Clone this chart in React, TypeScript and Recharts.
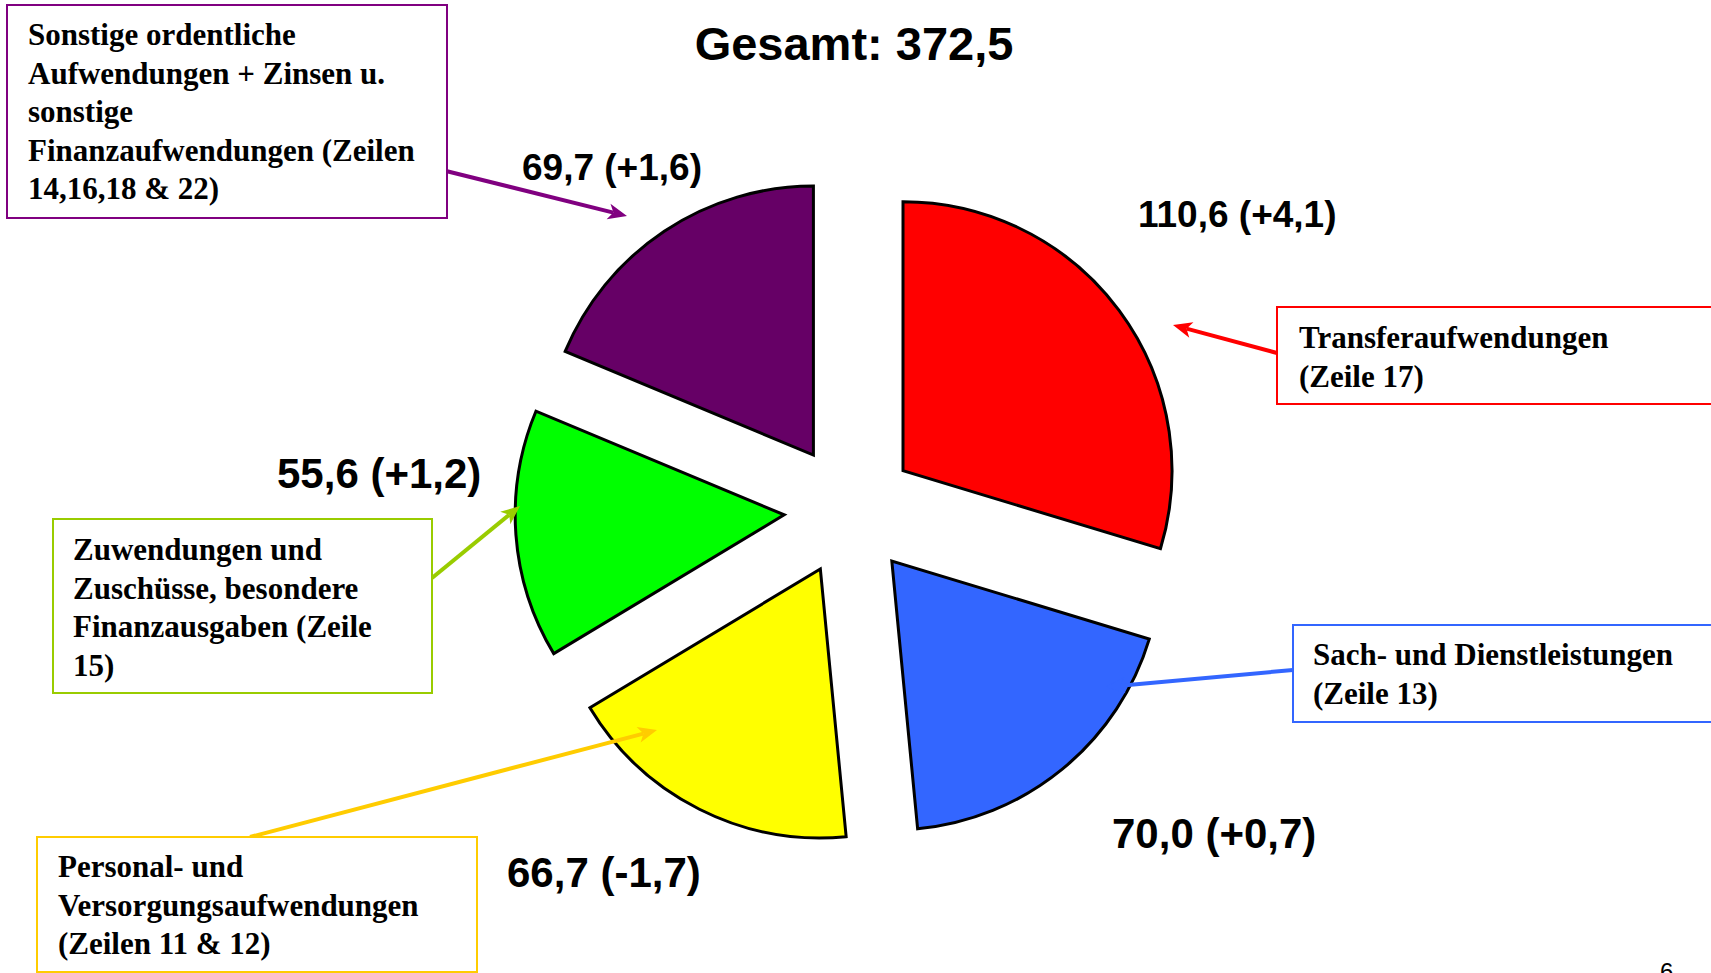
import { Cell, Pie, PieChart, Sector } from "recharts";

const CATEGORIES = [
  "Transferaufwendungen (Zeile 17)",
  "Sach- und Dienstleistungen (Zeile 13)",
  "Personal- und Versorgungsaufwendungen (Zeilen 11 & 12)",
  "Zuwendungen und Zuschüsse, besondere Finanzausgaben (Zeile 15)",
  "Sonstige ordentliche Aufwendungen + Zinsen u. sonstige Finanzaufwendungen (Zeilen 14,16,18 & 22)",
];
const VALUES = [110.6, 70.0, 66.7, 55.6, 69.7];
const CHANGES = [4.1, 0.7, -1.7, 1.2, 1.6];
const TOTAL = "372,5";
const BOX_LINES = [
  ["Transferaufwendungen", "(Zeile 17)"],
  ["Sach- und Dienstleistungen", "(Zeile 13)"],
  ["Personal- und", "Versorgungsaufwendungen", "(Zeilen 11 & 12)"],
  ["Zuwendungen und", "Zuschüsse, besondere", "Finanzausgaben (Zeile", "15)"],
  [
    "Sonstige ordentliche",
    "Aufwendungen + Zinsen u.",
    "sonstige",
    "Finanzaufwendungen (Zeilen",
    "14,16,18 & 22)",
  ],
];

const SLICE_COLORS = ["#ff0000", "#3366ff", "#ffff00", "#00ff00", "#660066"];
const CALLOUT_COLORS = ["#ff0000", "#3366ff", "#ffcc00", "#99cc00", "#800080"];

// layout
const W = 1711;
const H = 973;
const CX = 850;
const CY = 510;
const R = 269;
const EXPLODE = 66;
const SANS = "'Liberation Sans', Arial, sans-serif";
const SERIF = "'Liberation Serif', 'Times New Roman', serif";

const LABEL_POS = [
  { x: 1138, y: 227, size: 37 },
  { x: 1112, y: 848, size: 42 },
  { x: 507, y: 887, size: 42 },
  { x: 277, y: 488, size: 42 },
  { x: 522, y: 180, size: 37 },
];

const BOXES = [
  { x: 1277, y: 307, w: 470, h: 97, tx: 1299, ty: 348, from: [1277, 353], to: [1173, 325] },
  { x: 1293, y: 625, w: 450, h: 97, tx: 1313, ty: 665, from: [1293, 670], to: [1106, 687] },
  { x: 37, y: 837, w: 440, h: 135, tx: 58, ty: 877, from: [250, 837], to: [657, 730] },
  { x: 53, y: 519, w: 379, h: 174, tx: 73, ty: 560, from: [432, 578], to: [520, 506] },
  { x: 7, y: 5, w: 440, h: 213, tx: 28, ty: 45, from: [446, 171], to: [627, 216] },
];

const data = CATEGORIES.map((name, i) => ({ name, value: VALUES[i], change: CHANGES[i] }));

const fmt = (v: number) => v.toFixed(1).replace(".", ",");
const fmtChange = (v: number) => (v >= 0 ? "+" : "-") + fmt(Math.abs(v));

function ExplodedSector(props: any) {
  const rad = (-props.midAngle * Math.PI) / 180;
  return (
    <Sector
      {...props}
      cx={props.cx + EXPLODE * Math.cos(rad)}
      cy={props.cy + EXPLODE * Math.sin(rad)}
    />
  );
}

function renderLabel(props: any) {
  const i = props.index;
  const p = LABEL_POS[i];
  return (
    <text
      key={`lbl-${i}`}
      x={p.x}
      y={p.y}
      fill="#000"
      fontSize={p.size}
      fontWeight="bold"
      fontFamily={SANS}
      textAnchor="start"
    >
      {`${fmt(VALUES[i])} (${fmtChange(CHANGES[i])})`}
    </text>
  );
}

function Arrow({ from, to, color }: { from: number[]; to: number[]; color: string }) {
  const [x1, y1] = from;
  const [x2, y2] = to;
  const a = Math.atan2(y2 - y1, x2 - x1);
  const len = 19;
  const half = 8;
  const bx = x2 - len * Math.cos(a);
  const by = y2 - len * Math.sin(a);
  const nx = x2 - (len - 5) * Math.cos(a);
  const ny = y2 - (len - 5) * Math.sin(a);
  const pts = [
    [x2, y2],
    [bx + half * Math.sin(a), by - half * Math.cos(a)],
    [nx, ny],
    [bx - half * Math.sin(a), by + half * Math.cos(a)],
  ]
    .map((p) => p.join(","))
    .join(" ");
  return (
    <g>
      <line x1={x1} y1={y1} x2={nx} y2={ny} stroke={color} strokeWidth={4} />
      <polygon points={pts} fill={color} />
    </g>
  );
}

// drawn over the chart so the arrows sit on top of the slices
function Callouts() {
  return (
    <svg
      width={W}
      height={H}
      style={{ position: "absolute", left: 0, top: 0, pointerEvents: "none" }}
    >
      <text
        x={854}
        y={60}
        textAnchor="middle"
        fontSize={47}
        fontWeight="bold"
        fontFamily={SANS}
        fill="#000"
      >
        {`Gesamt: ${TOTAL}`}
      </text>
      {BOXES.map((b, i) => (
        <g key={i}>
          <Arrow from={b.from} to={b.to} color={CALLOUT_COLORS[i]} />
          <rect
            x={b.x}
            y={b.y}
            width={b.w}
            height={b.h}
            fill="#fff"
            stroke={CALLOUT_COLORS[i]}
            strokeWidth={2}
          />
          <text fontFamily={SERIF} fontWeight="bold" fontSize={31} fill="#000">
            {BOX_LINES[i].map((line, j) => (
              <tspan key={j} x={b.tx} y={b.ty + j * 38.5}>
                {line}
              </tspan>
            ))}
          </text>
        </g>
      ))}
      <text x={1660} y={980} fontSize={24} fontFamily={SANS} fill="#000">
        6
      </text>
    </svg>
  );
}

export default function App() {
  return (
    <div
      style={{
        position: "absolute",
        left: 0,
        top: 0,
        width: W,
        height: H,
        background: "#fff",
        overflow: "hidden",
      }}
    >
      <PieChart width={W} height={H} margin={{ top: 0, right: 0, bottom: 0, left: 0 }}>
        <Pie
          data={data}
          dataKey="value"
          nameKey="name"
          cx={CX}
          cy={CY}
          outerRadius={R}
          startAngle={90}
          endAngle={-270}
          stroke="#000"
          strokeWidth={3}
          shape={ExplodedSector}
          activeShape={ExplodedSector}
          label={renderLabel}
          labelLine={false}
          isAnimationActive={false}
        >
          {data.map((d, i) => (
            <Cell key={d.name} fill={SLICE_COLORS[i]} />
          ))}
        </Pie>
      </PieChart>
      <Callouts />
    </div>
  );
}
